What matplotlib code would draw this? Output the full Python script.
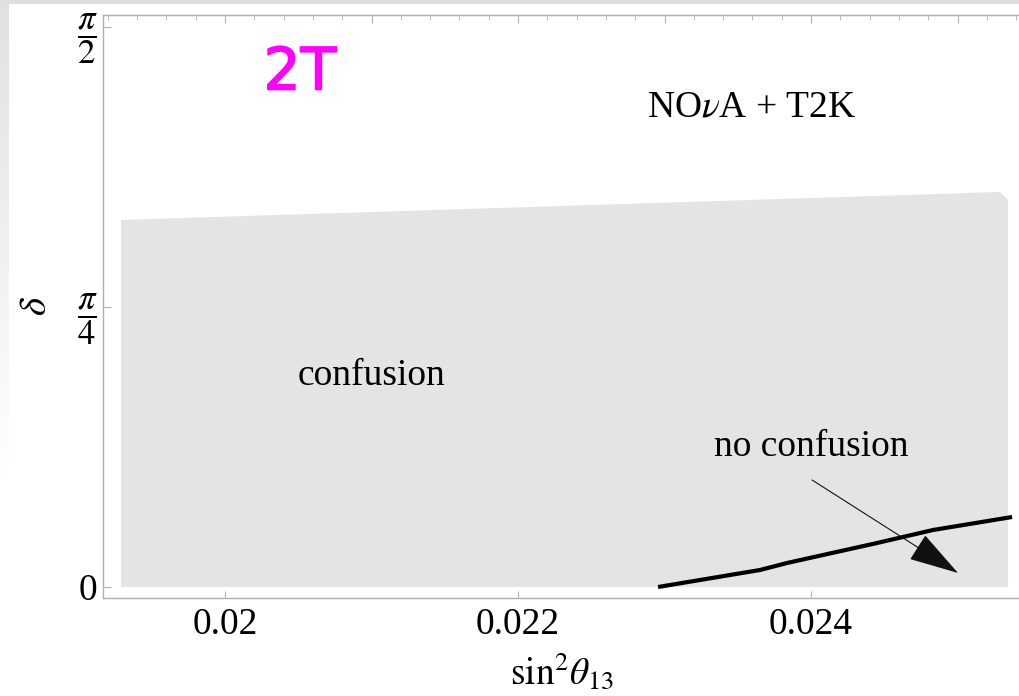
import matplotlib
matplotlib.use("Agg")
import matplotlib.pyplot as plt
import matplotlib.patheffects as pe
import numpy as np

plt.rcParams["font.family"] = ["Liberation Serif", "DejaVu Serif"]
plt.rcParams["mathtext.fontset"] = "stix"

# confusion region in the (sin^2 theta13, delta) plane
region_s13 = [0.01929, 0.01929, 0.02529, 0.025345, 0.025345]
region_delta = [0.0, 1.0295, 1.1080, 1.0856, 0.0]

# boundary of the no-confusion corner
edge_s13 = [0.022956, 0.023652, 0.023836, 0.024451, 0.024833, 0.025372]
edge_delta = [0.0, 0.0477, 0.0673, 0.1234, 0.1599, 0.1963]

arrow_tail = (0.024007, 0.3001)
arrow_tip = (0.025003, 0.0393)

xticks = [0.020, 0.022, 0.024]
xtick_labels = ["0.02", "0.022", "0.024"]
yticks = [0.0, np.pi / 4, np.pi / 2]
ytick_labels = ["0", r"$\dfrac{\pi}{4}$", r"$\dfrac{\pi}{2}$"]

FRAME = "#b0b0b0"
FILL = "#e4e4e4"

W, H = 1019, 696
fig = plt.figure(figsize=(W / 100, H / 100), dpi=100)

# slide backdrop: thin grey band on top, fading band on the left
bg = fig.add_axes([0, 0, 1, 1], zorder=-5)
bg.set_xlim(0, W)
bg.set_ylim(H, 0)
bg.axis("off")
bg.add_patch(plt.Rectangle((0, 0), W, 4, color="#dedede", lw=0))
fade = np.linspace(1.0, 0.0, 200)[:, None]
bg.imshow(np.dstack([np.full((200, 1), 0.87)] * 3 + [fade * 0.9]),
          extent=(0, 9, 480, 0), aspect="auto")

ax = fig.add_axes([103 / W, 1 - 598 / H, 918 / W, 583 / H])
ax.set_xlim(0.019167, 0.025433)
ax.set_ylim(-0.0309, 1.6045)

ax.fill(region_s13, region_delta, color=FILL, lw=0, zorder=1)
ax.plot(edge_s13, edge_delta, color="black", lw=3.0, solid_capstyle="butt", zorder=3)
ax.annotate("", xy=arrow_tip, xytext=arrow_tail,
            arrowprops=dict(arrowstyle="-|>,head_length=1.3,head_width=0.38",
                            mutation_scale=25, lw=0.8, color="#111111",
                            shrinkA=0, shrinkB=0), zorder=4)

ax.text(0.023597, 1.3464, r"NO$\nu$A + T2K", fontsize=27, ha="center", va="center")
ax.text(0.020997, 0.5919, "confusion", fontsize=27, ha="center", va="center")
ax.text(0.024000, 0.3927, "no confusion", fontsize=27, ha="center", va="center")

for side in ("left", "bottom", "top"):
    ax.spines[side].set_color(FRAME)
    ax.spines[side].set_linewidth(1.0)
ax.spines["right"].set_visible(False)

ax.set_xticks(xticks, xtick_labels, fontsize=27)
ax.set_yticks(yticks, ytick_labels, fontsize=27)
for lbl in ax.get_yticklabels()[1:]:
    lbl.set_fontsize(25)
ax.tick_params(axis="x", direction="in", length=5, color=FRAME, pad=7)
ax.tick_params(axis="y", direction="in", length=6, color=FRAME, pad=4)

top = ax.secondary_xaxis("top")
top.set_xticks(np.arange(0.019, 0.0256, 0.001))
top.set_xticks(np.arange(0.0192, 0.0256, 0.0002), minor=True)
top.tick_params(which="major", direction="in", length=6, color=FRAME, labeltop=False)
top.tick_params(which="minor", direction="in", length=3.5, color=FRAME)
top.spines["top"].set_color(FRAME)

ax.set_xlabel(r"$\sin^2\!\theta_{13}$", fontsize=27, labelpad=6)
ax.set_ylabel(r"$\delta$", fontsize=28, rotation=90)
ax.yaxis.set_label_coords(-0.072, 0.5)
ax.yaxis.label.set_va("center")

fig.text(300 / W, 1 - 73 / H, "2T", color="#ff00ff", fontsize=42,
         family="DejaVu Sans", ha="center", va="center",
         path_effects=[pe.withStroke(linewidth=1.2, foreground="#ff00ff",
                                     capstyle="round", joinstyle="round")])

fig.savefig("out.png", dpi=100)
